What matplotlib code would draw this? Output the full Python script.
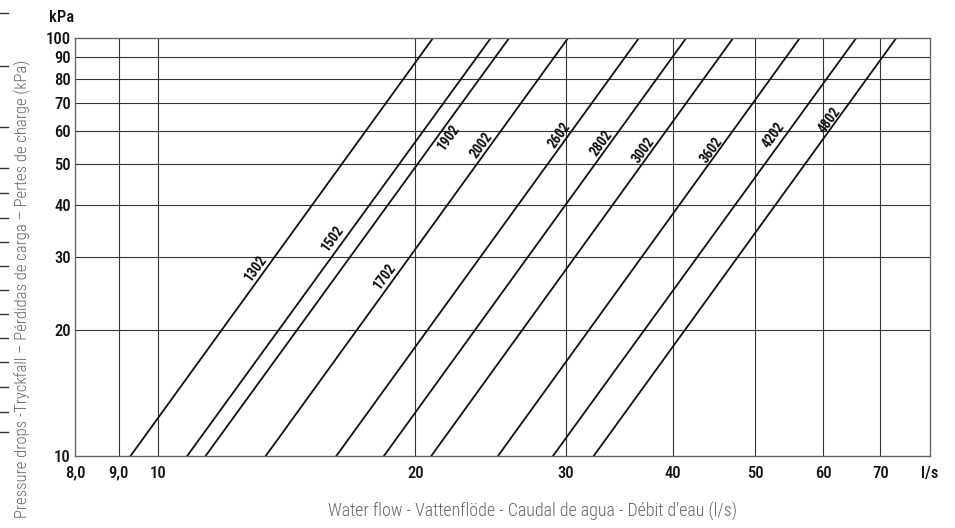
import matplotlib
matplotlib.use("Agg")
from matplotlib import pyplot as plt
from matplotlib.lines import Line2D

plt.rcParams['font.family'] = ['DejaVu Sans Condensed', 'Roboto Condensed', 'Liberation Sans Narrow',
                               'Roboto', 'DejaVu Sans']

# flow (l/s) where each curve meets 10 kPa and 100 kPa
flow_at_10 = [9.29, 10.82, 11.37, 13.37, 16.17, 18.38, 20.88, 24.99, 28.98, 32.34]
flow_at_100 = [20.97, 24.50, 25.74, 30.17, 36.51, 41.47, 47.06, 56.32, 65.55, 73.01]
kpa_ends = [10, 100]

# model labels and where they sit (l/s, kPa)
label_text = ["1302", "1502", "1702", "1902", "2002", "2602", "2802", "3002", "3602", "4202", "4802"]
label_x = [13.03, 16.02, 18.41, 21.88, 23.89, 29.51, 33.01, 37.03, 44.39, 52.56, 61.07]
label_y = [28.1, 33.2, 26.9, 58.1, 55.5, 58.7, 56.1, 54.0, 54.0, 58.7, 63.7]

x_ticks = [8, 9, 10, 20, 30, 40, 50, 60, 70, 80]
x_ticklabels = ["8,0", "9,0", "10", "20", "30", "40", "50", "60", "70", "l/s"]
y_ticks = [10, 20, 30, 40, 50, 60, 70, 80, 90, 100]

fig = plt.figure(figsize=(9.55, 5.28), dpi=100)
ax = fig.add_axes([75 / 955, 72 / 528, 855 / 955, 417.7 / 528])
ax.set_xscale("log")
ax.set_yscale("log")
ax.set_xlim(8, 80)
ax.set_ylim(10, 100)

# grid
for xv in x_ticks[1:-1]:
    ax.axvline(xv, color="#333333", lw=0.8, zorder=1)
for yv in y_ticks[1:-1]:
    ax.axhline(yv, color="#333333", lw=0.8, zorder=1)

for f1, f2 in zip(flow_at_10, flow_at_100):
    ax.plot([f1, f2], kpa_ends, color="#111111", lw=1.3, zorder=2)

for t, lx, ly in zip(label_text, label_x, label_y):
    ax.text(lx, ly, t, rotation=54, ha="center", va="center", rotation_mode="anchor",
            fontsize=10, fontweight="bold", color="#111111", zorder=3)

ax.minorticks_off()
ax.set_xticks(x_ticks)
ax.set_xticklabels(x_ticklabels)
ax.set_yticks(y_ticks)
ax.set_yticklabels([str(v) for v in y_ticks])
ax.tick_params(length=0, labelsize=12, colors="#111111")
ax.tick_params(axis="x", pad=7)
ax.tick_params(axis="y", pad=3)
for lbl in ax.get_xticklabels() + ax.get_yticklabels():
    lbl.set_fontweight("medium")
for s in ax.spines.values():
    s.set_color("#666666")
    s.set_linewidth(1.0)

fig.text(62 / 955, 1 - 18 / 528, "kPa", ha="center", va="center", fontsize=12,
         fontweight="medium", color="#111111")

fig.text(532 / 955, 1 - 511 / 528, "Water flow - Vattenflöde - Caudal de agua - Débit d\u2019eau (l/s)",
         ha="center", va="center", fontsize=12.9, color="#666666", fontweight="light")
fig.text(22 / 955, 1 - 289 / 528, "Pressure drops -Tryckfall \u2013 Pérdidas de carga \u2013 Pertes de charge (kPa)",
         ha="center", va="center", rotation=90, fontsize=12.0, color="#666666", fontweight="light")

# stray tick marks along the left edge
for yy in [13, 66, 127, 168, 193, 218, 242, 266, 290, 314, 338, 362, 387, 412, 432]:
    fig.add_artist(Line2D([0, 8 / 955], [1 - yy / 528] * 2, transform=fig.transFigure,
                          color="#333333", lw=1.0))

fig.savefig("out.png", dpi=100)
